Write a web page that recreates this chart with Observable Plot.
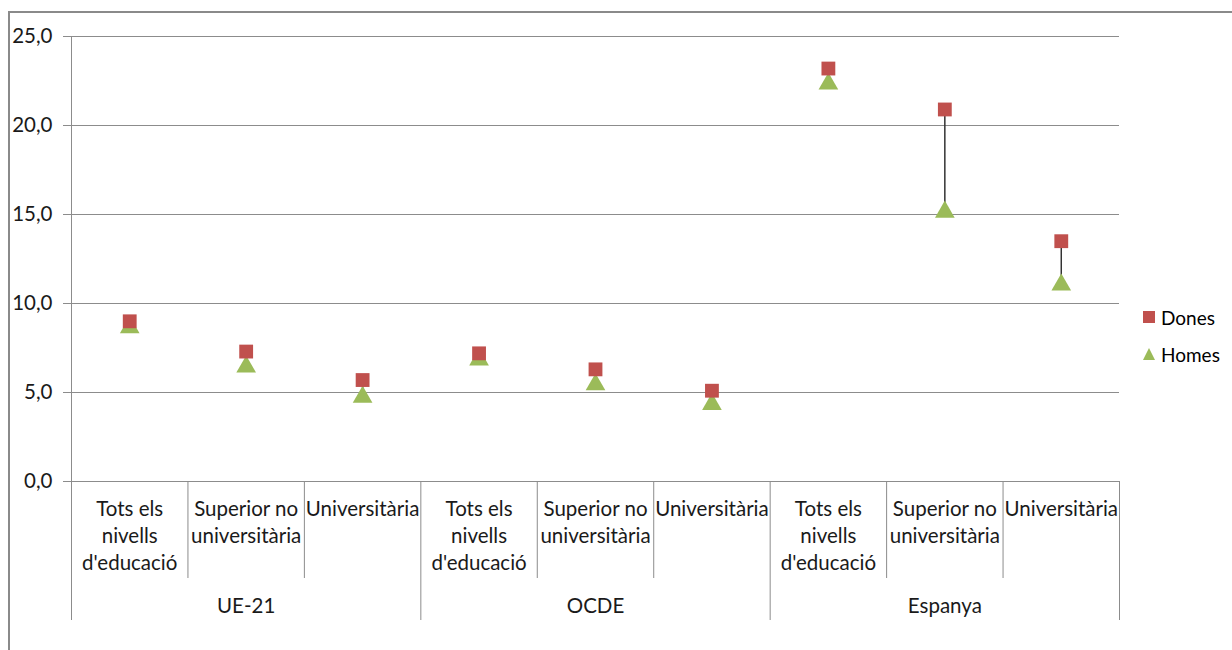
<!DOCTYPE html>
<html>
<head>
<meta charset="utf-8">
<script src="https://cdn.jsdelivr.net/npm/d3@7"></script>
<script src="https://cdn.jsdelivr.net/npm/@observablehq/plot@0.6"></script>
<style>
  body { margin: 0; background: #fff; font-family: Lato, "Open Sans", sans-serif; }
  #wrap { position: relative; width: 1232px; height: 650px; overflow: hidden; }
  #frame { position: absolute; left: 8px; top: 11px; width: 1300px; height: 700px;
           border-left: 2px solid #8a8a8a; border-top: 2px solid #8a8a8a; }
  #chart { position: absolute; left: 0; top: 0; }
  #legend { position: absolute; left: 1142px; top: 304px; font-size: 19px; color: #000; }
  #legend .row { display: flex; align-items: center; height: 26px; margin-bottom: 11px; }
  #legend svg { margin-right: 5px; }
</style>
</head>
<body>
<div id="wrap">
  <div id="frame"></div>
  <div id="chart"></div>
  <div id="legend"></div>
</div>
<script>
// ---- data ----
const groups = ["UE-21", "OCDE", "Espanya"];
const levels = ["Tots els\nnivells\nd'educació", "Superior no\nuniversitària", "Universitària"];
const dones = [9.0, 7.3, 5.7, 7.2, 6.3, 5.1, 23.2, 20.9, 13.5];
const homes = [8.8, 6.6, 4.9, 7.0, 5.6, 4.5, 22.5, 15.3, 11.2];
const yTicks = [0, 5, 10, 15, 20, 25];
const seriesNames = ["Dones", "Homes"];
const colors = {Dones: "#C0504D", Homes: "#9BBB59"};

// ---- derived table ----
const rows = [];
groups.forEach((g, gi) => levels.forEach((l, li) => {
  const i = gi * levels.length + li;
  rows.push({i, group: g, level: l, dones: dones[i], homes: homes[i]});
}));
const catSeps = rows.slice(1).map(d => d.i - 0.5).filter((_, k) => (k + 1) % levels.length !== 0);
const groupSeps = d3.range(groups.length + 1).map(g => g * levels.length - 0.5);
const groupCenters = groups.map((g, gi) => ({g, x: gi * levels.length + (levels.length - 1) / 2}));

const font = "Lato, 'Open Sans', sans-serif";
const fmt = v => v.toFixed(1).replace(".", ",");
const FS = 20.5;

const plot = Plot.plot({
  width: 1232,
  height: 650,
  marginLeft: 71,
  marginRight: 113,
  marginTop: 36,
  marginBottom: 169,
  style: {fontFamily: font, fontSize: FS + "px", color: "#000", background: "transparent", overflow: "visible"},
  x: {type: "linear", domain: [-0.5, rows.length - 0.5], axis: null},
  y: {domain: [0, 25], axis: null},
  marks: [
    Plot.ruleY(yTicks.filter(t => t > 0), {stroke: "#8c8c8c", strokeWidth: 1, insetLeft: -8}),
    Plot.axisY(yTicks, {tickSize: 8, tickPadding: 11, tickFormat: fmt, stroke: "#8c8c8c", fontSize: FS, fill: "#1a1a1a"}),
    Plot.ruleX([-0.5], {stroke: "#8c8c8c"}),
    Plot.ruleY([0], {stroke: "#8c8c8c", insetLeft: -8}),
    Plot.ruleX(catSeps, {x: d => d, y1: 0, y2: 0, insetBottom: -97, stroke: "#8c8c8c"}),
    Plot.ruleX(groupSeps, {x: d => d, y1: 0, y2: 0, insetBottom: -139, stroke: "#8c8c8c"}),
    Plot.text(rows, {x: "i", y: 0, text: "level", lineAnchor: "top", dy: 15, lineHeight: 1.32, fill: "#1a1a1a", fontSize: FS}),
    Plot.text(groupCenters, {x: "x", y: 0, text: "g", lineAnchor: "middle", dy: 125, fill: "#1a1a1a", fontSize: FS}),
    Plot.ruleX(rows, {x: "i", y1: "dones", y2: "homes", stroke: "#333", strokeWidth: 1.5}),
    Plot.dot(rows, {x: "i", y: "homes", symbol: "triangle", r: 7.3, fill: colors.Homes, dy: 2.8}),
    Plot.dot(rows, {x: "i", y: "dones", symbol: "square", r: 7.8, fill: colors.Dones})
  ]
});
document.getElementById("chart").appendChild(plot);

// legend
const legend = document.getElementById("legend");
seriesNames.forEach(name => {
  const row = document.createElement("div");
  row.className = "row";
  const shape = name === "Dones"
    ? `<svg width="14" height="14"><rect x="1" y="1" width="12" height="12" fill="${colors.Dones}"/></svg>`
    : `<svg width="14" height="14"><path d="M7,1 L13,13 L1,13 Z" fill="${colors.Homes}"/></svg>`;
  row.innerHTML = shape + `<span>${name}</span>`;
  legend.appendChild(row);
});
</script>
</body>
</html>
